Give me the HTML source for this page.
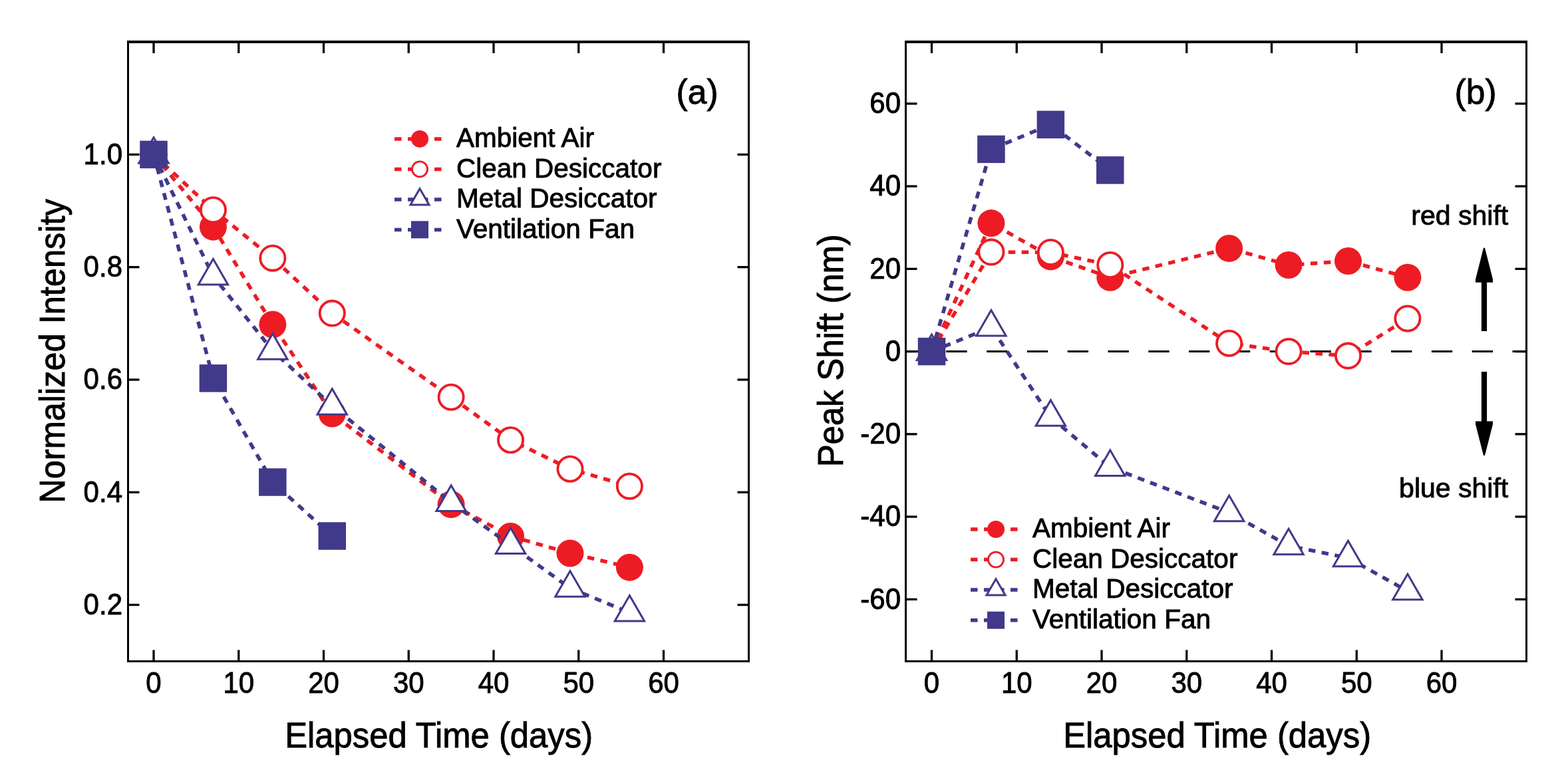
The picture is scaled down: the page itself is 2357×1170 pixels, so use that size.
<!DOCTYPE html>
<html><head><meta charset="utf-8"><title>Figure</title>
<style>
html,body{margin:0;padding:0;background:#fff;}
svg{display:block;}
text{font-family:"Liberation Sans",Arial,sans-serif;fill:#000;stroke:#000;stroke-width:0.9px;}
.tk{font-size:42px;}
.lg{font-size:40.5px;}
.ti{font-size:50.8px;}
.pl{font-size:51.5px;}
.an{font-size:41px;}
</style></head>
<body>
<svg width="2357" height="1170" viewBox="0 0 2357 1170">
<rect width="2357" height="1170" fill="#fff"/>
<path d="M192.5,996.0V61M1125.5,996.0V61M191.0,994.5H1127.0" fill="none" stroke="#000" stroke-width="3"/>
<path d="M191.0,63H1127.0" fill="none" stroke="#000" stroke-width="4"/>
<line x1="231" y1="994.5" x2="231" y2="977.5" stroke="#000" stroke-width="3.3"/>
<line x1="231" y1="63" x2="231" y2="80" stroke="#000" stroke-width="3.3"/>
<line x1="358.75" y1="994.5" x2="358.75" y2="977.5" stroke="#000" stroke-width="3.3"/>
<line x1="358.75" y1="63" x2="358.75" y2="80" stroke="#000" stroke-width="3.3"/>
<line x1="486.5" y1="994.5" x2="486.5" y2="977.5" stroke="#000" stroke-width="3.3"/>
<line x1="486.5" y1="63" x2="486.5" y2="80" stroke="#000" stroke-width="3.3"/>
<line x1="614.25" y1="994.5" x2="614.25" y2="977.5" stroke="#000" stroke-width="3.3"/>
<line x1="614.25" y1="63" x2="614.25" y2="80" stroke="#000" stroke-width="3.3"/>
<line x1="742" y1="994.5" x2="742" y2="977.5" stroke="#000" stroke-width="3.3"/>
<line x1="742" y1="63" x2="742" y2="80" stroke="#000" stroke-width="3.3"/>
<line x1="869.75" y1="994.5" x2="869.75" y2="977.5" stroke="#000" stroke-width="3.3"/>
<line x1="869.75" y1="63" x2="869.75" y2="80" stroke="#000" stroke-width="3.3"/>
<line x1="997.5" y1="994.5" x2="997.5" y2="977.5" stroke="#000" stroke-width="3.3"/>
<line x1="997.5" y1="63" x2="997.5" y2="80" stroke="#000" stroke-width="3.3"/>
<line x1="192.5" y1="909.6" x2="209.5" y2="909.6" stroke="#000" stroke-width="3.3"/>
<line x1="1125.5" y1="909.6" x2="1108.5" y2="909.6" stroke="#000" stroke-width="3.3"/>
<line x1="192.5" y1="740.3" x2="209.5" y2="740.3" stroke="#000" stroke-width="3.3"/>
<line x1="1125.5" y1="740.3" x2="1108.5" y2="740.3" stroke="#000" stroke-width="3.3"/>
<line x1="192.5" y1="571" x2="209.5" y2="571" stroke="#000" stroke-width="3.3"/>
<line x1="1125.5" y1="571" x2="1108.5" y2="571" stroke="#000" stroke-width="3.3"/>
<line x1="192.5" y1="401.7" x2="209.5" y2="401.7" stroke="#000" stroke-width="3.3"/>
<line x1="1125.5" y1="401.7" x2="1108.5" y2="401.7" stroke="#000" stroke-width="3.3"/>
<line x1="192.5" y1="232.4" x2="209.5" y2="232.4" stroke="#000" stroke-width="3.3"/>
<line x1="1125.5" y1="232.4" x2="1108.5" y2="232.4" stroke="#000" stroke-width="3.3"/>
<text transform="translate(231,1042) scale(1,1.035)" class="tk" text-anchor="middle">0</text>
<text transform="translate(358.75,1042) scale(1,1.035)" class="tk" text-anchor="middle">10</text>
<text transform="translate(486.5,1042) scale(1,1.035)" class="tk" text-anchor="middle">20</text>
<text transform="translate(614.25,1042) scale(1,1.035)" class="tk" text-anchor="middle">30</text>
<text transform="translate(742,1042) scale(1,1.035)" class="tk" text-anchor="middle">40</text>
<text transform="translate(869.75,1042) scale(1,1.035)" class="tk" text-anchor="middle">50</text>
<text transform="translate(997.5,1042) scale(1,1.035)" class="tk" text-anchor="middle">60</text>
<text transform="translate(184,923.8) scale(1,1.035)" class="tk" text-anchor="end">0.2</text>
<text transform="translate(184,754.5) scale(1,1.035)" class="tk" text-anchor="end">0.4</text>
<text transform="translate(184,585.2) scale(1,1.035)" class="tk" text-anchor="end">0.6</text>
<text transform="translate(184,415.9) scale(1,1.035)" class="tk" text-anchor="end">0.8</text>
<text transform="translate(184,246.6) scale(1,1.035)" class="tk" text-anchor="end">1.0</text>
<path d="M1361.5,996.0V61M2294.5,996.0V61M1360.0,994.5H2296.0" fill="none" stroke="#000" stroke-width="3"/>
<path d="M1360.0,63H2296.0" fill="none" stroke="#000" stroke-width="4"/>
<line x1="1400.5" y1="994.5" x2="1400.5" y2="977.5" stroke="#000" stroke-width="3.3"/>
<line x1="1400.5" y1="63" x2="1400.5" y2="80" stroke="#000" stroke-width="3.3"/>
<line x1="1528.25" y1="994.5" x2="1528.25" y2="977.5" stroke="#000" stroke-width="3.3"/>
<line x1="1528.25" y1="63" x2="1528.25" y2="80" stroke="#000" stroke-width="3.3"/>
<line x1="1656" y1="994.5" x2="1656" y2="977.5" stroke="#000" stroke-width="3.3"/>
<line x1="1656" y1="63" x2="1656" y2="80" stroke="#000" stroke-width="3.3"/>
<line x1="1783.75" y1="994.5" x2="1783.75" y2="977.5" stroke="#000" stroke-width="3.3"/>
<line x1="1783.75" y1="63" x2="1783.75" y2="80" stroke="#000" stroke-width="3.3"/>
<line x1="1911.5" y1="994.5" x2="1911.5" y2="977.5" stroke="#000" stroke-width="3.3"/>
<line x1="1911.5" y1="63" x2="1911.5" y2="80" stroke="#000" stroke-width="3.3"/>
<line x1="2039.25" y1="994.5" x2="2039.25" y2="977.5" stroke="#000" stroke-width="3.3"/>
<line x1="2039.25" y1="63" x2="2039.25" y2="80" stroke="#000" stroke-width="3.3"/>
<line x1="2167" y1="994.5" x2="2167" y2="977.5" stroke="#000" stroke-width="3.3"/>
<line x1="2167" y1="63" x2="2167" y2="80" stroke="#000" stroke-width="3.3"/>
<line x1="1361.5" y1="901.32" x2="1378.5" y2="901.32" stroke="#000" stroke-width="3.3"/>
<line x1="2294.5" y1="901.32" x2="2277.5" y2="901.32" stroke="#000" stroke-width="3.3"/>
<line x1="1361.5" y1="777.08" x2="1378.5" y2="777.08" stroke="#000" stroke-width="3.3"/>
<line x1="2294.5" y1="777.08" x2="2277.5" y2="777.08" stroke="#000" stroke-width="3.3"/>
<line x1="1361.5" y1="652.84" x2="1378.5" y2="652.84" stroke="#000" stroke-width="3.3"/>
<line x1="2294.5" y1="652.84" x2="2277.5" y2="652.84" stroke="#000" stroke-width="3.3"/>
<line x1="1361.5" y1="528.6" x2="1378.5" y2="528.6" stroke="#000" stroke-width="3.3"/>
<line x1="2294.5" y1="528.6" x2="2277.5" y2="528.6" stroke="#000" stroke-width="3.3"/>
<line x1="1361.5" y1="404.36" x2="1378.5" y2="404.36" stroke="#000" stroke-width="3.3"/>
<line x1="2294.5" y1="404.36" x2="2277.5" y2="404.36" stroke="#000" stroke-width="3.3"/>
<line x1="1361.5" y1="280.12" x2="1378.5" y2="280.12" stroke="#000" stroke-width="3.3"/>
<line x1="2294.5" y1="280.12" x2="2277.5" y2="280.12" stroke="#000" stroke-width="3.3"/>
<line x1="1361.5" y1="155.88" x2="1378.5" y2="155.88" stroke="#000" stroke-width="3.3"/>
<line x1="2294.5" y1="155.88" x2="2277.5" y2="155.88" stroke="#000" stroke-width="3.3"/>
<text transform="translate(1400.5,1042) scale(1,1.035)" class="tk" text-anchor="middle">0</text>
<text transform="translate(1528.25,1042) scale(1,1.035)" class="tk" text-anchor="middle">10</text>
<text transform="translate(1656,1042) scale(1,1.035)" class="tk" text-anchor="middle">20</text>
<text transform="translate(1783.75,1042) scale(1,1.035)" class="tk" text-anchor="middle">30</text>
<text transform="translate(1911.5,1042) scale(1,1.035)" class="tk" text-anchor="middle">40</text>
<text transform="translate(2039.25,1042) scale(1,1.035)" class="tk" text-anchor="middle">50</text>
<text transform="translate(2167,1042) scale(1,1.035)" class="tk" text-anchor="middle">60</text>
<text transform="translate(1354,915.52) scale(1,1.035)" class="tk" text-anchor="end">-60</text>
<text transform="translate(1354,791.28) scale(1,1.035)" class="tk" text-anchor="end">-40</text>
<text transform="translate(1354,667.04) scale(1,1.035)" class="tk" text-anchor="end">-20</text>
<text transform="translate(1354,542.8) scale(1,1.035)" class="tk" text-anchor="end">0</text>
<text transform="translate(1354,418.56) scale(1,1.035)" class="tk" text-anchor="end">20</text>
<text transform="translate(1354,294.32) scale(1,1.035)" class="tk" text-anchor="end">40</text>
<text transform="translate(1354,170.08) scale(1,1.035)" class="tk" text-anchor="end">60</text>
<line x1="1361.5" y1="528.6" x2="2294.5" y2="528.6" stroke="#000" stroke-width="3" stroke-dasharray="31.3 29.5"/>
<path d="M2230,372.8 L2232,372.8 L2244,420 L2244,424.8 L2235.1,424.8 L2235.1,498 L2226.9,498 L2226.9,424.8 L2218,424.8 L2218,420 Z" fill="#000"/>
<path d="M2230,684.9 L2232,684.9 L2244,638 L2244,633.4 L2235.1,633.4 L2235.1,559 L2226.9,559 L2226.9,633.4 L2218,633.4 L2218,638 Z" fill="#000"/>
<text transform="translate(659.6,1124) scale(1,1.055)" class="ti" text-anchor="middle">Elapsed Time (days)</text>
<text transform="translate(1829.6,1124) scale(1,1.055)" class="ti" text-anchor="middle">Elapsed Time (days)</text>
<text transform="translate(97,528) rotate(-90) scale(1,1.05)" class="ti" text-anchor="middle" style="font-size:50.5px">Normalized Intensity</text>
<text transform="translate(1267,527.3) rotate(-90) scale(1,1.055)" class="ti" text-anchor="middle">Peak Shift (nm)</text>
<text x="1016.6" y="156" class="pl">(a)</text>
<text x="2186.6" y="155.7" class="pl">(b)</text>
<text x="2267.2" y="338.2" class="an" text-anchor="end">red shift</text>
<text x="2267.2" y="747.9" class="an" text-anchor="end">blue shift</text>
<polyline points="231,232.4 320.43,341.18 409.85,488.04 499.28,622.04 678.12,758.5 767.55,806.41 856.98,831.98 946.4,853.14" fill="none" stroke="#ED1C24" stroke-width="5.5" stroke-dasharray="10.5 9.5"/>
<circle cx="231" cy="232.4" r="20.5" fill="#ED1C24"/>
<circle cx="320.43" cy="341.18" r="20.5" fill="#ED1C24"/>
<circle cx="409.85" cy="488.04" r="20.5" fill="#ED1C24"/>
<circle cx="499.28" cy="622.04" r="20.5" fill="#ED1C24"/>
<circle cx="678.12" cy="758.5" r="20.5" fill="#ED1C24"/>
<circle cx="767.55" cy="806.41" r="20.5" fill="#ED1C24"/>
<circle cx="856.98" cy="831.98" r="20.5" fill="#ED1C24"/>
<circle cx="946.4" cy="853.14" r="20.5" fill="#ED1C24"/>
<polyline points="231,232.4 320.43,315.7 409.85,388.16 499.28,471.11 678.12,597.24 767.55,661.74 856.98,705.25 946.4,731.16" fill="none" stroke="#ED1C24" stroke-width="5.5" stroke-dasharray="10.5 9.5"/>
<circle cx="231" cy="232.4" r="18.6" fill="#fff" stroke="#ED1C24" stroke-width="3.8"/>
<circle cx="320.43" cy="315.7" r="18.6" fill="#fff" stroke="#ED1C24" stroke-width="3.8"/>
<circle cx="409.85" cy="388.16" r="18.6" fill="#fff" stroke="#ED1C24" stroke-width="3.8"/>
<circle cx="499.28" cy="471.11" r="18.6" fill="#fff" stroke="#ED1C24" stroke-width="3.8"/>
<circle cx="678.12" cy="597.24" r="18.6" fill="#fff" stroke="#ED1C24" stroke-width="3.8"/>
<circle cx="767.55" cy="661.74" r="18.6" fill="#fff" stroke="#ED1C24" stroke-width="3.8"/>
<circle cx="856.98" cy="705.25" r="18.6" fill="#fff" stroke="#ED1C24" stroke-width="3.8"/>
<circle cx="946.4" cy="731.16" r="18.6" fill="#fff" stroke="#ED1C24" stroke-width="3.8"/>
<polyline points="231,232.4 320.43,415.24 409.85,527.32 499.28,610.36 678.12,755.71 767.55,819.79 856.98,884.54 946.4,921.2" fill="none" stroke="#41398A" stroke-width="5.5" stroke-dasharray="10.5 9.5"/>
<polygon points="231,206.73 253.23,245.23 208.77,245.23" fill="#fff" stroke="#41398A" stroke-width="3" stroke-miterlimit="10"/>
<polygon points="320.43,389.57 342.66,428.07 298.19,428.07" fill="#fff" stroke="#41398A" stroke-width="3" stroke-miterlimit="10"/>
<polygon points="409.85,501.65 432.08,540.15 387.62,540.15" fill="#fff" stroke="#41398A" stroke-width="3" stroke-miterlimit="10"/>
<polygon points="499.28,584.69 521.5,623.19 477.05,623.19" fill="#fff" stroke="#41398A" stroke-width="3" stroke-miterlimit="10"/>
<polygon points="678.12,730.04 700.36,768.54 655.89,768.54" fill="#fff" stroke="#41398A" stroke-width="3" stroke-miterlimit="10"/>
<polygon points="767.55,794.12 789.78,832.62 745.32,832.62" fill="#fff" stroke="#41398A" stroke-width="3" stroke-miterlimit="10"/>
<polygon points="856.98,858.87 879.21,897.37 834.75,897.37" fill="#fff" stroke="#41398A" stroke-width="3" stroke-miterlimit="10"/>
<polygon points="946.4,895.53 968.63,934.03 924.17,934.03" fill="#fff" stroke="#41398A" stroke-width="3" stroke-miterlimit="10"/>
<polyline points="231,232.4 320.43,568.88 409.85,725.06 499.28,806.07" fill="none" stroke="#41398A" stroke-width="5.5" stroke-dasharray="10.5 9.5"/>
<rect x="210.25" y="211.65" width="41.5" height="41.5" fill="#41398A"/>
<rect x="299.68" y="548.13" width="41.5" height="41.5" fill="#41398A"/>
<rect x="389.1" y="704.31" width="41.5" height="41.5" fill="#41398A"/>
<rect x="478.53" y="785.32" width="41.5" height="41.5" fill="#41398A"/>
<polyline points="1400.5,528.6 1489.92,335.59 1579.35,385.91 1668.78,417.22 1847.62,373.42 1937.05,398.52 2026.47,392.56 2115.9,417.28" fill="none" stroke="#ED1C24" stroke-width="5.5" stroke-dasharray="10.5 9.5"/>
<circle cx="1400.5" cy="528.6" r="20.5" fill="#ED1C24"/>
<circle cx="1489.92" cy="335.59" r="20.5" fill="#ED1C24"/>
<circle cx="1579.35" cy="385.91" r="20.5" fill="#ED1C24"/>
<circle cx="1668.78" cy="417.22" r="20.5" fill="#ED1C24"/>
<circle cx="1847.62" cy="373.42" r="20.5" fill="#ED1C24"/>
<circle cx="1937.05" cy="398.52" r="20.5" fill="#ED1C24"/>
<circle cx="2026.47" cy="392.56" r="20.5" fill="#ED1C24"/>
<circle cx="2115.9" cy="417.28" r="20.5" fill="#ED1C24"/>
<polyline points="1400.5,528.6 1489.92,379.08 1579.35,379.51 1668.78,398.52 1847.62,516.3 1937.05,528.6 2026.47,535.12 2115.9,479.03" fill="none" stroke="#ED1C24" stroke-width="5.5" stroke-dasharray="10.5 9.5"/>
<circle cx="1400.5" cy="528.6" r="18.6" fill="#fff" stroke="#ED1C24" stroke-width="3.8"/>
<circle cx="1489.92" cy="379.08" r="18.6" fill="#fff" stroke="#ED1C24" stroke-width="3.8"/>
<circle cx="1579.35" cy="379.51" r="18.6" fill="#fff" stroke="#ED1C24" stroke-width="3.8"/>
<circle cx="1668.78" cy="398.52" r="18.6" fill="#fff" stroke="#ED1C24" stroke-width="3.8"/>
<circle cx="1847.62" cy="516.3" r="18.6" fill="#fff" stroke="#ED1C24" stroke-width="3.8"/>
<circle cx="1937.05" cy="528.6" r="18.6" fill="#fff" stroke="#ED1C24" stroke-width="3.8"/>
<circle cx="2026.47" cy="535.12" r="18.6" fill="#fff" stroke="#ED1C24" stroke-width="3.8"/>
<circle cx="2115.9" cy="479.03" r="18.6" fill="#fff" stroke="#ED1C24" stroke-width="3.8"/>
<polyline points="1400.5,528.6 1489.92,492.2 1579.35,627.5 1668.78,702.72 1847.62,770.81 1937.05,820.81 2026.47,839.01 2115.9,888.9" fill="none" stroke="#41398A" stroke-width="5.5" stroke-dasharray="10.5 9.5"/>
<polygon points="1400.5,502.93 1422.73,541.43 1378.27,541.43" fill="#fff" stroke="#41398A" stroke-width="3" stroke-miterlimit="10"/>
<polygon points="1489.92,466.53 1512.15,505.03 1467.69,505.03" fill="#fff" stroke="#41398A" stroke-width="3" stroke-miterlimit="10"/>
<polygon points="1579.35,601.83 1601.58,640.33 1557.12,640.33" fill="#fff" stroke="#41398A" stroke-width="3" stroke-miterlimit="10"/>
<polygon points="1668.78,677.05 1691.01,715.55 1646.55,715.55" fill="#fff" stroke="#41398A" stroke-width="3" stroke-miterlimit="10"/>
<polygon points="1847.62,745.14 1869.86,783.64 1825.39,783.64" fill="#fff" stroke="#41398A" stroke-width="3" stroke-miterlimit="10"/>
<polygon points="1937.05,795.14 1959.28,833.64 1914.82,833.64" fill="#fff" stroke="#41398A" stroke-width="3" stroke-miterlimit="10"/>
<polygon points="2026.47,813.34 2048.7,851.84 2004.24,851.84" fill="#fff" stroke="#41398A" stroke-width="3" stroke-miterlimit="10"/>
<polygon points="2115.9,863.23 2138.13,901.73 2093.67,901.73" fill="#fff" stroke="#41398A" stroke-width="3" stroke-miterlimit="10"/>
<polyline points="1400.5,528.6 1489.92,224.4 1579.35,187.37 1668.78,255.89" fill="none" stroke="#41398A" stroke-width="5.5" stroke-dasharray="10.5 9.5"/>
<rect x="1379.75" y="507.85" width="41.5" height="41.5" fill="#41398A"/>
<rect x="1469.17" y="203.65" width="41.5" height="41.5" fill="#41398A"/>
<rect x="1558.6" y="166.62" width="41.5" height="41.5" fill="#41398A"/>
<rect x="1648.03" y="235.14" width="41.5" height="41.5" fill="#41398A"/>
<line x1="593" y1="208.9" x2="664" y2="208.9" stroke="#ED1C24" stroke-width="5.5" stroke-dasharray="10.5 9.5"/>
<circle cx="631" cy="208.9" r="13" fill="#ED1C24"/>
<text x="686" y="221.3" class="lg">Ambient Air</text>
<line x1="593" y1="254.4" x2="664" y2="254.4" stroke="#ED1C24" stroke-width="5.5" stroke-dasharray="10.5 9.5"/>
<circle cx="631" cy="254.4" r="11.5" fill="#fff" stroke="#ED1C24" stroke-width="2.8"/>
<text x="686" y="266.8" class="lg">Clean Desiccator</text>
<line x1="593" y1="299.9" x2="664" y2="299.9" stroke="#41398A" stroke-width="5.5" stroke-dasharray="10.5 9.5"/>
<polygon points="631,283.7 645.03,308 616.97,308" fill="#fff" stroke="#41398A" stroke-width="3" stroke-miterlimit="10"/>
<text x="686" y="312.3" class="lg">Metal Desiccator</text>
<line x1="593" y1="345.4" x2="664" y2="345.4" stroke="#41398A" stroke-width="5.5" stroke-dasharray="10.5 9.5"/>
<rect x="618" y="332.4" width="26" height="26" fill="#41398A"/>
<text x="686" y="357.8" class="lg">Ventilation Fan</text>
<line x1="1459" y1="796" x2="1530" y2="796" stroke="#ED1C24" stroke-width="5.5" stroke-dasharray="10.5 9.5"/>
<circle cx="1497" cy="796" r="13" fill="#ED1C24"/>
<text x="1552" y="808.4" class="lg">Ambient Air</text>
<line x1="1459" y1="841.6" x2="1530" y2="841.6" stroke="#ED1C24" stroke-width="5.5" stroke-dasharray="10.5 9.5"/>
<circle cx="1497" cy="841.6" r="11.5" fill="#fff" stroke="#ED1C24" stroke-width="2.8"/>
<text x="1552" y="854" class="lg">Clean Desiccator</text>
<line x1="1459" y1="886.9" x2="1530" y2="886.9" stroke="#41398A" stroke-width="5.5" stroke-dasharray="10.5 9.5"/>
<polygon points="1497,870.7 1511.03,895 1482.97,895" fill="#fff" stroke="#41398A" stroke-width="3" stroke-miterlimit="10"/>
<text x="1552" y="899.3" class="lg">Metal Desiccator</text>
<line x1="1459" y1="932.7" x2="1530" y2="932.7" stroke="#41398A" stroke-width="5.5" stroke-dasharray="10.5 9.5"/>
<rect x="1484" y="919.7" width="26" height="26" fill="#41398A"/>
<text x="1552" y="945.1" class="lg">Ventilation Fan</text>
</svg>
</body></html>
